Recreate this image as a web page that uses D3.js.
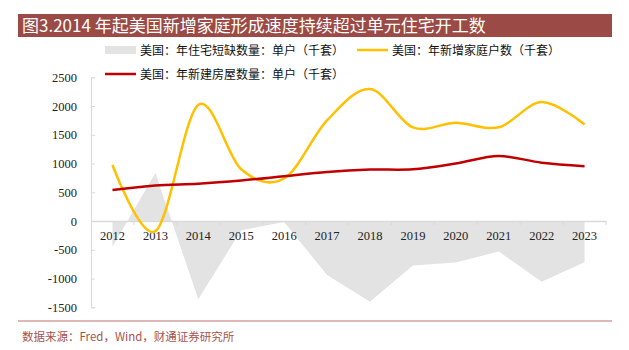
<!DOCTYPE html>
<html>
<head>
<meta charset="utf-8">
<script src="https://cdn.jsdelivr.net/npm/d3@7"></script>
<style>
  body { margin: 0; background: #fff; }
  svg { display: block; }
</style>
</head>
<body>
<svg width="629" height="350"></svg>
<script>
// Data
const years = ["2012", "2013", "2014", "2015", "2016", "2017", "2018", "2019", "2020", "2021", "2022", "2023"];
const shortage = [-445, 835, -1360, -160, -15, -940, -1405, -775, -720, -530, -1055, -715];
const households = [975, -175, 2020, 900, 740, 1750, 2295, 1630, 1710, 1630, 2070, 1680];
const newHomes = [540, 620, 650, 705, 780, 855, 895, 900, 1000, 1130, 1015, 955];
const yTicks = [-1500, -1000, -500, 0, 500, 1000, 1500, 2000, 2500];

const titleText = "图3.2014 年起美国新增家庭形成速度持续超过单元住宅开工数";
const sourceText = "数据来源：Fred，Wind，财通证券研究所";
const legendNames = ["美国：年住宅短缺数量：单户（千套）", "美国：年新增家庭户数（千套）", "美国：年新建房屋数量：单户（千套）"];

const svg = d3.select("svg");
const cjk = "'Noto Sans CJK SC', 'Noto Sans', sans-serif";
const serif = "'Liberation Serif', 'DejaVu Serif', serif";

// Title bar
svg.append("rect")
  .attr("x", 18).attr("y", 14)
  .attr("width", 594).attr("height", 23)
  .attr("fill", "#9b4a45");

svg.append("text")
  .attr("x", 22).attr("y", 31.5)
  .attr("fill", "#fff")
  .style("font-family", cjk)
  .style("font-size", "17px")
  .text(titleText);

// Scales
const x = d3.scaleBand()
  .domain(years)
  .range([91, 606]);

const y = d3.scaleLinear()
  .domain([-1500, 2500])
  .range([307.3, 77.3]);

const cx = d => x(d) + x.bandwidth() / 2;

// Shortage area
const area = d3.area()
  .x((d, i) => cx(years[i]))
  .y0(y(0))
  .y1(d => y(d));

svg.append("path")
  .datum(shortage)
  .attr("d", area)
  .attr("fill", "#e3e3e3");

// Y axis
const yAxis = svg.append("g")
  .attr("transform", "translate(91,0)")
  .call(d3.axisRight(y).tickValues(yTicks).tickSize(4).tickFormat(""));
yAxis.select(".domain").attr("stroke", "#d9d9d9");
yAxis.selectAll(".tick line").attr("stroke", "#d9d9d9");

svg.append("g")
  .selectAll("text")
  .data(yTicks)
  .join("text")
  .attr("x", 77)
  .attr("y", d => y(d) + 4.5)
  .attr("text-anchor", "end")
  .attr("fill", "#222")
  .style("font-family", serif)
  .style("font-size", "12.5px")
  .text(d => d);

// X axis at zero
const xAxis = svg.append("g")
  .attr("transform", `translate(0,${y(0)})`)
  .call(d3.axisBottom(x).tickSize(0).tickFormat(""));
xAxis.select(".domain").attr("stroke", "#d9d9d9").attr("stroke-width", 1.5);

svg.append("g")
  .selectAll("line")
  .data(years.slice(1).concat(["end"]))
  .join("line")
  .attr("x1", d => d === "end" ? 606 : x(d))
  .attr("x2", d => d === "end" ? 606 : x(d))
  .attr("y1", y(0))
  .attr("y2", y(0) + 4)
  .attr("stroke", "#d9d9d9");

svg.append("g")
  .selectAll("text")
  .data(years)
  .join("text")
  .attr("x", d => cx(d))
  .attr("y", y(0) + 19)
  .attr("text-anchor", "middle")
  .attr("fill", "#222")
  .style("font-family", serif)
  .style("font-size", "12.5px")
  .text(d => d);

// Smoothed lines
const line = d3.line()
  .x((d, i) => cx(years[i]))
  .y(d => y(d))
  .curve(d3.curveCardinal.tension(0));

svg.append("path")
  .datum(households)
  .attr("d", line)
  .attr("fill", "none")
  .attr("stroke", "#ffc000")
  .attr("stroke-width", 2.5);

svg.append("path")
  .datum(newHomes)
  .attr("d", line)
  .attr("fill", "none")
  .attr("stroke", "#c00000")
  .attr("stroke-width", 2.5);

// Legend
const legend = svg.append("g").attr("class", "legend");
const legendItems = [
  { x: 105, y: 50, type: "area", color: "#e3e3e3" },
  { x: 357, y: 50, type: "line", color: "#ffc000" },
  { x: 105, y: 74, type: "line", color: "#c00000" }
];

legendItems.forEach((d, i) => {
  if (d.type === "area") {
    legend.append("rect")
      .attr("x", d.x).attr("y", d.y - 4)
      .attr("width", 31).attr("height", 8)
      .attr("fill", d.color);
  } else {
    legend.append("line")
      .attr("x1", d.x).attr("x2", d.x + 31)
      .attr("y1", d.y).attr("y2", d.y)
      .attr("stroke", d.color)
      .attr("stroke-width", 2.5);
  }
  legend.append("text")
    .attr("x", d.x + 35)
    .attr("y", d.y + 4.5)
    .attr("fill", "#111")
    .style("font-family", cjk)
    .style("font-size", "12px")
    .text(legendNames[i]);
});

// Source footer
svg.append("line")
  .attr("x1", 18).attr("x2", 612)
  .attr("y1", 321).attr("y2", 321)
  .attr("stroke", "#d3a19d")
  .attr("stroke-width", 1.5);

svg.append("text")
  .attr("x", 22).attr("y", 341)
  .attr("fill", "#a8534d")
  .style("font-family", cjk)
  .style("font-size", "11.5px")
  .text(sourceText);
</script>
</body>
</html>
